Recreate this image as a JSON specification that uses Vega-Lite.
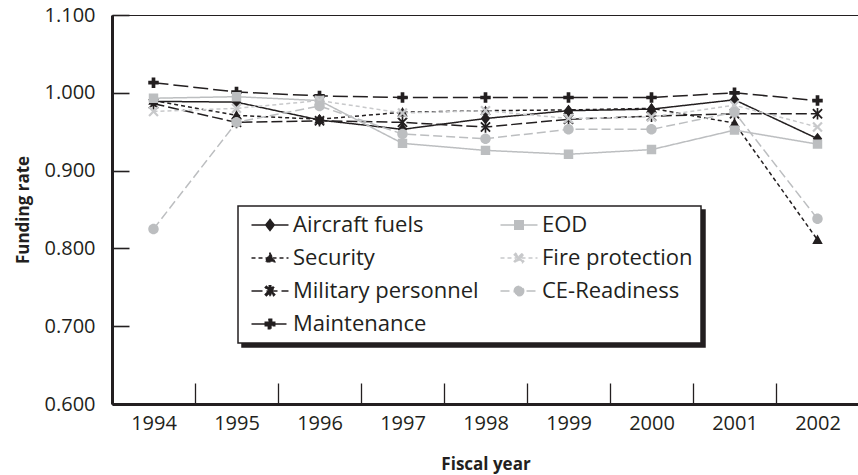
{
  "$schema": "https://vega.github.io/schema/vega-lite/v6.json",
  "width": 747,
  "height": 389,
  "autosize": {"type": "none"},
  "padding": {"left": 112, "top": 15, "right": 0, "bottom": 71},
  "background": "white",
  "config": {
    "font": "Open Sans",
    "view": {"stroke": "#231f20", "strokeWidth": 1},
    "legend": {"strokeWidth": 1.5},
    "axis": {"grid": false, "labelColor": "#231f20", "titleColor": "#231f20", "domainColor": "#231f20", "tickColor": "#231f20", "labelFont": "Open Sans", "titleFont": "Open Sans"}
  },
  "data": {"values": [
    {"series": "Aircraft fuels", "year": "1994", "rate": 0.989},
    {"series": "Aircraft fuels", "year": "1995", "rate": 0.988},
    {"series": "Aircraft fuels", "year": "1996", "rate": 0.965},
    {"series": "Aircraft fuels", "year": "1997", "rate": 0.953},
    {"series": "Aircraft fuels", "year": "1998", "rate": 0.967},
    {"series": "Aircraft fuels", "year": "1999", "rate": 0.977},
    {"series": "Aircraft fuels", "year": "2000", "rate": 0.979},
    {"series": "Aircraft fuels", "year": "2001", "rate": 0.991},
    {"series": "Aircraft fuels", "year": "2002", "rate": 0.941},
    {"series": "Security", "year": "1994", "rate": 0.990},
    {"series": "Security", "year": "1995", "rate": 0.971},
    {"series": "Security", "year": "1996", "rate": 0.966},
    {"series": "Security", "year": "1997", "rate": 0.975},
    {"series": "Security", "year": "1998", "rate": 0.977},
    {"series": "Security", "year": "1999", "rate": 0.978},
    {"series": "Security", "year": "2000", "rate": 0.980},
    {"series": "Security", "year": "2001", "rate": 0.961},
    {"series": "Security", "year": "2002", "rate": 0.811},
    {"series": "Military personnel", "year": "1994", "rate": 0.986},
    {"series": "Military personnel", "year": "1995", "rate": 0.962},
    {"series": "Military personnel", "year": "1996", "rate": 0.964},
    {"series": "Military personnel", "year": "1997", "rate": 0.962},
    {"series": "Military personnel", "year": "1998", "rate": 0.956},
    {"series": "Military personnel", "year": "1999", "rate": 0.966},
    {"series": "Military personnel", "year": "2000", "rate": 0.970},
    {"series": "Military personnel", "year": "2001", "rate": 0.973},
    {"series": "Military personnel", "year": "2002", "rate": 0.973},
    {"series": "Maintenance", "year": "1994", "rate": 1.013},
    {"series": "Maintenance", "year": "1995", "rate": 1.001},
    {"series": "Maintenance", "year": "1996", "rate": 0.996},
    {"series": "Maintenance", "year": "1997", "rate": 0.994},
    {"series": "Maintenance", "year": "1998", "rate": 0.994},
    {"series": "Maintenance", "year": "1999", "rate": 0.994},
    {"series": "Maintenance", "year": "2000", "rate": 0.994},
    {"series": "Maintenance", "year": "2001", "rate": 1.000},
    {"series": "Maintenance", "year": "2002", "rate": 0.990},
    {"series": "EOD", "year": "1994", "rate": 0.993},
    {"series": "EOD", "year": "1995", "rate": 0.995},
    {"series": "EOD", "year": "1996", "rate": 0.990},
    {"series": "EOD", "year": "1997", "rate": 0.935},
    {"series": "EOD", "year": "1998", "rate": 0.926},
    {"series": "EOD", "year": "1999", "rate": 0.921},
    {"series": "EOD", "year": "2000", "rate": 0.927},
    {"series": "EOD", "year": "2001", "rate": 0.952},
    {"series": "EOD", "year": "2002", "rate": 0.934},
    {"series": "Fire protection", "year": "1994", "rate": 0.976},
    {"series": "Fire protection", "year": "1995", "rate": 0.980},
    {"series": "Fire protection", "year": "1996", "rate": 0.990},
    {"series": "Fire protection", "year": "1997", "rate": 0.974},
    {"series": "Fire protection", "year": "1998", "rate": 0.977},
    {"series": "Fire protection", "year": "1999", "rate": 0.967},
    {"series": "Fire protection", "year": "2000", "rate": 0.969},
    {"series": "Fire protection", "year": "2001", "rate": 0.984},
    {"series": "Fire protection", "year": "2002", "rate": 0.956},
    {"series": "CE-Readiness", "year": "1994", "rate": 0.825},
    {"series": "CE-Readiness", "year": "1995", "rate": 0.962},
    {"series": "CE-Readiness", "year": "1996", "rate": 0.983},
    {"series": "CE-Readiness", "year": "1997", "rate": 0.947},
    {"series": "CE-Readiness", "year": "1998", "rate": 0.941},
    {"series": "CE-Readiness", "year": "1999", "rate": 0.953},
    {"series": "CE-Readiness", "year": "2000", "rate": 0.953},
    {"series": "CE-Readiness", "year": "2001", "rate": 0.975},
    {"series": "CE-Readiness", "year": "2002", "rate": 0.838}
  ]},
  "encoding": {
    "x": {
      "field": "year", "type": "ordinal",
      "scale": {"type": "band", "paddingInner": 0, "paddingOuter": 0},
      "axis": {"title": "Fiscal year", "titleFontWeight": "bold", "titleFontSize": 17, "titlePadding": 23, "labelFontSize": 20, "labelAngle": 0, "tickBand": "extent", "tickSize": -21, "tickWidth": 1.3, "domainWidth": 3, "labelPadding": 30}
    },
    "y": {
      "field": "rate", "type": "quantitative",
      "scale": {"domain": [0.6, 1.1], "nice": false, "zero": false},
      "axis": {"title": "Funding rate", "titleFontWeight": "bold", "titleFontSize": 17, "titlePadding": 12, "labelFontSize": 20, "format": ".3f", "values": [0.6, 0.7, 0.8, 0.9, 1.0, 1.1], "tickSize": -17, "tickWidth": 1.6, "domainWidth": 3, "labelPadding": 34}
    },
    "color": {
      "field": "series", "type": "nominal",
      "scale": {
        "domain": ["Aircraft fuels", "Security", "Military personnel", "Maintenance", "EOD", "Fire protection", "CE-Readiness"],
        "range": ["#231f20", "#231f20", "#231f20", "#231f20", "#bcbec0", "#c8c9cb", "#bcbec0"]
      },
      "legend": {
        "title": null, "orient": "none", "legendX": 126, "legendY": 191, "direction": "vertical", "columns": 2,
        "fillColor": "white", "strokeColor": "#231f20",
        "padding": 8, "rowPadding": 11, "columnPadding": 16,
        "labelFontSize": 22, "labelColor": "#231f20", "labelFont": "Open Sans", "labelLimit": 400,
        "symbolSize": 90, "symbolOffset": 13, "labelOffset": 12, "zindex": 2, "symbolStrokeWidth": 1.5
      }
    }
  },
  "layer": [
    {
      "mark": {"type": "line", "strokeWidth": 1.5},
      "encoding": {
        "strokeDash": {
          "field": "series", "type": "nominal",
          "scale": {
            "domain": ["Aircraft fuels", "Security", "Military personnel", "Maintenance", "EOD", "Fire protection", "CE-Readiness"],
            "range": [[1, 0], [4, 3], [11, 4], [15, 5], [1, 0], [4, 3], [9, 4]]
          },
          "legend": null
        }
      }
    },
    {
      "mark": {"type": "point", "filled": true, "size": 110, "opacity": 1},
      "encoding": {
        "strokeWidth": {"value": 0},
        "stroke": {
          "field": "series", "type": "nominal",
          "scale": {
            "domain": ["Aircraft fuels", "Security", "Military personnel", "Maintenance", "EOD", "Fire protection", "CE-Readiness"],
            "range": ["#231f20", "#231f20", "#231f20", "#231f20", "#bcbec0", "#c8c9cb", "#bcbec0"]
          }
        },
        "shape": {
          "field": "series", "type": "nominal",
          "scale": {
            "domain": ["Aircraft fuels", "Security", "Military personnel", "Maintenance", "EOD", "Fire protection", "CE-Readiness"],
            "range": [
              "M-3.9,0H3.9M0,-1.15L0.9,0L0,1.15L-0.9,0Z",
              "M-3.9,0H3.9M0,-1L1,0.8H-1Z",
              "M-3.9,0H3.9M-1,-0.75L-0.75,-1L0,-0.25L0.75,-1L1,-0.75L0.25,0L1,0.75L0.75,1L0,0.25L-0.75,1L-1,0.75L-0.25,0ZM-0.16,-1.1H0.16V1.1H-0.16Z",
              "M-3.9,0H3.9M-0.35,-1H0.35V-0.35H1V0.35H0.35V1H-0.35V0.35H-1V-0.35H-0.35Z",
              "M-3.9,0H3.9M-0.9,-0.9H0.9V0.9H-0.9Z",
              "M-3.9,0H3.9M-1,-0.7L-0.7,-1L0,-0.3L0.7,-1L1,-0.7L0.3,0L1,0.7L0.7,1L0,0.3L-0.7,1L-1,0.7L-0.3,0Z",
              "M-3.9,0H3.9M1,0A1,1,0,1,1,-1,0A1,1,0,1,1,1,0Z"
            ]
          },
          "legend": null
        },
        "opacity": {
          "field": "series", "type": "nominal",
          "scale": {
            "type": "ordinal",
            "domain": ["Aircraft fuels", "Security", "Military personnel", "Maintenance", "EOD", "Fire protection", "CE-Readiness", " "],
            "range": [1, 1, 1, 1, 1, 1, 1, 1]
          },
          "legend": {
            "title": null, "orient": "none", "legendX": 130, "legendY": 195, "direction": "vertical", "columns": 2,
            "fillColor": "#231f20", "strokeColor": "#231f20",
            "padding": 8, "rowPadding": 11, "columnPadding": 16,
            "labelFontSize": 22, "labelFont": "Open Sans", "labelLimit": 400, "labelOpacity": 0,
            "symbolSize": 90, "symbolOffset": 13, "labelOffset": 12, "zindex": 1,
            "symbolType": "M-3.9,0H3.9M-1,-1H1V1H-1Z", "symbolFillColor": "#231f20", "symbolStrokeColor": "#231f20", "symbolStrokeWidth": 1.5
          }
        }
      }
    }
  ]
}
